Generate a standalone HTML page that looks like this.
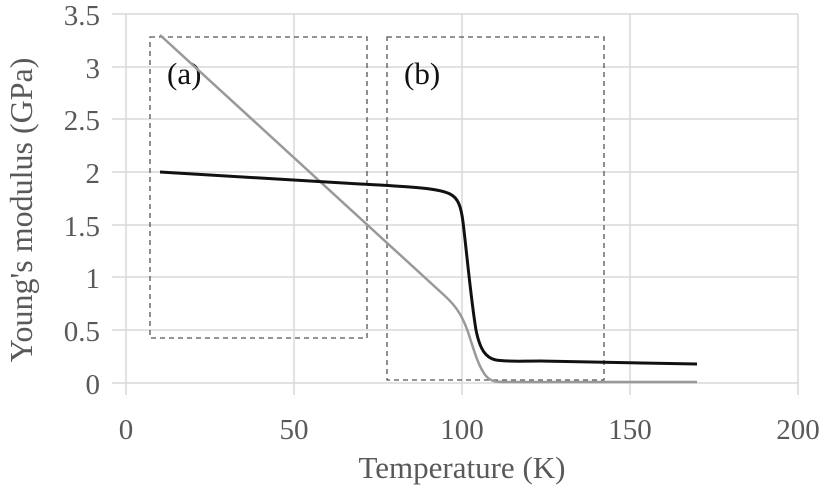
<!DOCTYPE html>
<html><head><style>body{margin:0;background:#fff}</style></head><body>
<svg width="827" height="489" xmlns="http://www.w3.org/2000/svg" font-family="Liberation Serif, serif" fill="#595959">
<g stroke="#d9d9d9" stroke-width="1.5">
<line x1="112" y1="14" x2="798" y2="14"/><line x1="112" y1="67" x2="798" y2="67"/><line x1="112" y1="119" x2="798" y2="119"/><line x1="112" y1="172" x2="798" y2="172"/><line x1="112" y1="225" x2="798" y2="225"/><line x1="112" y1="277" x2="798" y2="277"/><line x1="112" y1="330" x2="798" y2="330"/><line x1="112" y1="383" x2="798" y2="383"/>
<line x1="126" y1="14" x2="126" y2="395"/><line x1="294" y1="14" x2="294" y2="395"/><line x1="462" y1="14" x2="462" y2="395"/><line x1="630" y1="14" x2="630" y2="395"/><line x1="798" y1="14" x2="798" y2="395"/>
</g>
<g font-size="29" text-anchor="end">
<text x="100" y="25">3.5</text><text x="100" y="78">3</text><text x="100" y="130">2.5</text><text x="100" y="183">2</text><text x="100" y="236">1.5</text><text x="100" y="288">1</text><text x="100" y="341">0.5</text><text x="100" y="394">0</text>
</g>
<g font-size="29" text-anchor="middle">
<text x="126" y="439">0</text><text x="294" y="439">50</text><text x="462" y="439">100</text><text x="630" y="439">150</text><text x="798" y="439">200</text>
<text x="462" y="478" font-size="31">Temperature  (K)</text>
<text transform="translate(32,210) rotate(-90)" font-size="32">Young's modulus (GPa)</text>
</g>
<g fill="none" stroke="#555" stroke-width="1.3" stroke-dasharray="5,4">
<rect x="150" y="37" width="217" height="301"/><rect x="387" y="37" width="217" height="343"/>
</g>
<g font-size="31" fill="#111"><text x="167" y="84">(a)</text><text x="404" y="84">(b)</text></g>
<path d="M160,35 L445,296 C458,308 463,318 468,332 C474,350 478,366 486,376 C491,382 498,382 507,382 L697,382" fill="none" stroke="#999" stroke-width="2.5"/>
<path d="M160,172 L360,184 C420,187 440,189 450,194 C458,198 461,206 463,222 C467,255 471,300 476,330 C480,350 486,358 496,360 C510,362 520,361 540,361 L697,364" fill="none" stroke="#111" stroke-width="3"/>
</svg>
</body></html>
